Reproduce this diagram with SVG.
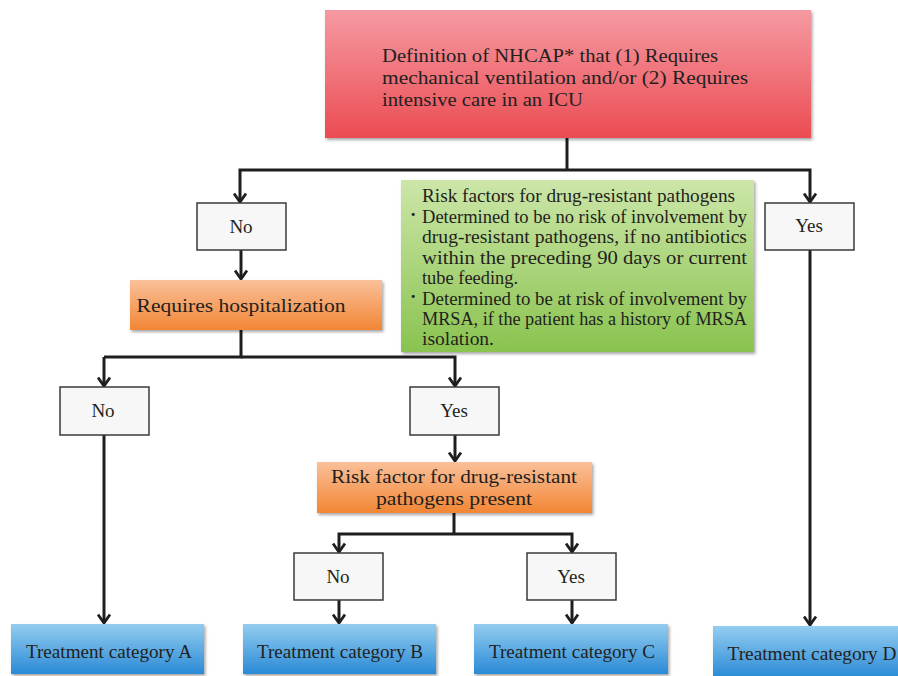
<svg xmlns="http://www.w3.org/2000/svg" width="898" height="676" viewBox="0 0 898 676">
<style>
.t{font-family:"Liberation Serif","DejaVu Serif",serif;fill:#231f20;font-size:19px}
.c{text-anchor:middle}
.box{stroke:#3a3a3a;stroke-width:1.5;fill:#f7f7f7}
.ln{stroke:#1e1e1e;stroke-width:3;fill:none}
.ar{stroke:#1e1e1e;stroke-width:3;fill:none;marker-end:url(#ah)}
</style>
<defs>
<marker id="ah" viewBox="0 0 12 14" refX="10" refY="7" markerWidth="12" markerHeight="14" markerUnits="userSpaceOnUse" orient="auto">
<path d="M1.5,1 L10,7 L1.5,13" fill="none" stroke="#1e1e1e" stroke-width="2.8" stroke-linejoin="miter"/>
</marker>
<linearGradient id="gr" x1="0" y1="0" x2="0" y2="1"><stop offset="0" stop-color="#f59aa2"/><stop offset="1" stop-color="#ec4c53"/></linearGradient>
<linearGradient id="go" x1="0" y1="0" x2="0" y2="1"><stop offset="0" stop-color="#fac09a"/><stop offset="1" stop-color="#f28634"/></linearGradient>
<linearGradient id="gb" x1="0" y1="0" x2="0" y2="1"><stop offset="0" stop-color="#93cdf0"/><stop offset="1" stop-color="#2a8ad6"/></linearGradient>
<linearGradient id="gg" x1="0" y1="0" x2="0" y2="1"><stop offset="0" stop-color="#cce6a8"/><stop offset="1" stop-color="#8ac34f"/></linearGradient>
<filter id="sh" x="-5%" y="-5%" width="110%" height="120%"><feDropShadow dx="1.5" dy="2" stdDeviation="1.5" flood-color="#000" flood-opacity="0.35"/></filter>
</defs>

<g id="connectors">
<path class="ln" d="M567,138 V170"/>
<path class="ar" d="M567,170 H240 V202"/>
<path class="ar" d="M567,170 H810 V202"/>
<path class="ar" d="M241,250 V279"/>
<path class="ln" d="M241,330 V357 H104"/>
<path class="ar" d="M104,357 V386"/>
<path class="ar" d="M241,357 H455 V386"/>
<path class="ar" d="M455,435 V461"/>
<path class="ln" d="M454,513 V534"/>
<path class="ar" d="M454,534 H339 V552"/>
<path class="ar" d="M454,534 H572 V552"/>
<path class="ar" d="M339,600 V623"/>
<path class="ar" d="M572,600 V623"/>
<path class="ar" d="M104,435 V623"/>
<path class="ar" d="M810,250 V625"/>
</g>

<g id="n-definition">
<rect x="325" y="10" width="486" height="128" fill="url(#gr)" filter="url(#sh)"/>
<text class="t" x="382" y="62" textLength="336" lengthAdjust="spacingAndGlyphs">Definition of NHCAP* that (1) Requires</text>
<text class="t" x="382" y="84" textLength="366" lengthAdjust="spacingAndGlyphs">mechanical ventilation and/or (2) Requires</text>
<text class="t" x="382" y="106" textLength="201" lengthAdjust="spacingAndGlyphs">intensive care in an ICU</text>
</g>

<g id="n-no1"><rect class="box" x="197" y="203" width="89" height="47"/><text class="t c" x="241" y="233">No</text></g>
<g id="n-yes1"><rect class="box" x="765" y="203" width="89" height="47"/><text class="t c" x="809" y="232">Yes</text></g>

<g id="n-risk-info">
<rect x="401" y="180" width="353" height="172" fill="url(#gg)" filter="url(#sh)"/>
<g class="t" font-size="18">
<text x="422" y="202" textLength="313" lengthAdjust="spacingAndGlyphs">Risk factors for drug-resistant pathogens</text>
<text x="410" y="221" font-weight="bold">·</text>
<text x="422" y="223" textLength="325" lengthAdjust="spacingAndGlyphs">Determined to be no risk of involvement by</text>
<text x="422" y="243" textLength="325" lengthAdjust="spacingAndGlyphs">drug-resistant pathogens, if no antibiotics</text>
<text x="422" y="264" textLength="325" lengthAdjust="spacingAndGlyphs">within the preceding 90 days or current</text>
<text x="422" y="284" textLength="96" lengthAdjust="spacingAndGlyphs">tube feeding.</text>
<text x="410" y="303" font-weight="bold">·</text>
<text x="422" y="305" textLength="325" lengthAdjust="spacingAndGlyphs">Determined to be at risk of involvement by</text>
<text x="422" y="325" textLength="325" lengthAdjust="spacingAndGlyphs">MRSA, if the patient has a history of MRSA</text>
<text x="422" y="345" textLength="72" lengthAdjust="spacingAndGlyphs">isolation.</text>
</g>
</g>

<g id="n-hosp">
<rect x="130" y="280" width="252" height="50" fill="url(#go)" filter="url(#sh)"/>
<text class="t c" x="241" y="312" textLength="209" lengthAdjust="spacingAndGlyphs">Requires hospitalization</text>
</g>

<g id="n-no2"><rect class="box" x="60" y="387" width="89" height="48"/><text class="t c" x="103" y="417">No</text></g>
<g id="n-yes2"><rect class="box" x="410" y="387" width="89" height="48"/><text class="t c" x="454" y="417">Yes</text></g>

<g id="n-riskfactor">
<rect x="317" y="462" width="275" height="51" fill="url(#go)" filter="url(#sh)"/>
<text class="t c" x="454" y="483" textLength="246" lengthAdjust="spacingAndGlyphs">Risk factor for drug-resistant</text>
<text class="t c" x="454" y="505" textLength="156" lengthAdjust="spacingAndGlyphs">pathogens present</text>
</g>

<g id="n-no3"><rect class="box" x="294" y="553" width="89" height="47"/><text class="t c" x="338" y="583">No</text></g>
<g id="n-yes3"><rect class="box" x="527" y="553" width="89" height="47"/><text class="t c" x="571" y="583">Yes</text></g>

<g id="n-catA"><rect x="11" y="624" width="193" height="50" fill="url(#gb)" filter="url(#sh)"/><text class="t c" x="109" y="658" textLength="166" lengthAdjust="spacingAndGlyphs">Treatment category A</text></g>
<g id="n-catB"><rect x="243" y="624" width="193" height="50" fill="url(#gb)" filter="url(#sh)"/><text class="t c" x="340" y="658" textLength="166" lengthAdjust="spacingAndGlyphs">Treatment category B</text></g>
<g id="n-catC"><rect x="474" y="624" width="194" height="50" fill="url(#gb)" filter="url(#sh)"/><text class="t c" x="572" y="658" textLength="166" lengthAdjust="spacingAndGlyphs">Treatment category C</text></g>
<g id="n-catD"><rect x="713" y="626" width="190" height="52" fill="url(#gb)" filter="url(#sh)"/><text class="t c" x="812" y="660" textLength="169" lengthAdjust="spacingAndGlyphs">Treatment category D</text></g>
</svg>
